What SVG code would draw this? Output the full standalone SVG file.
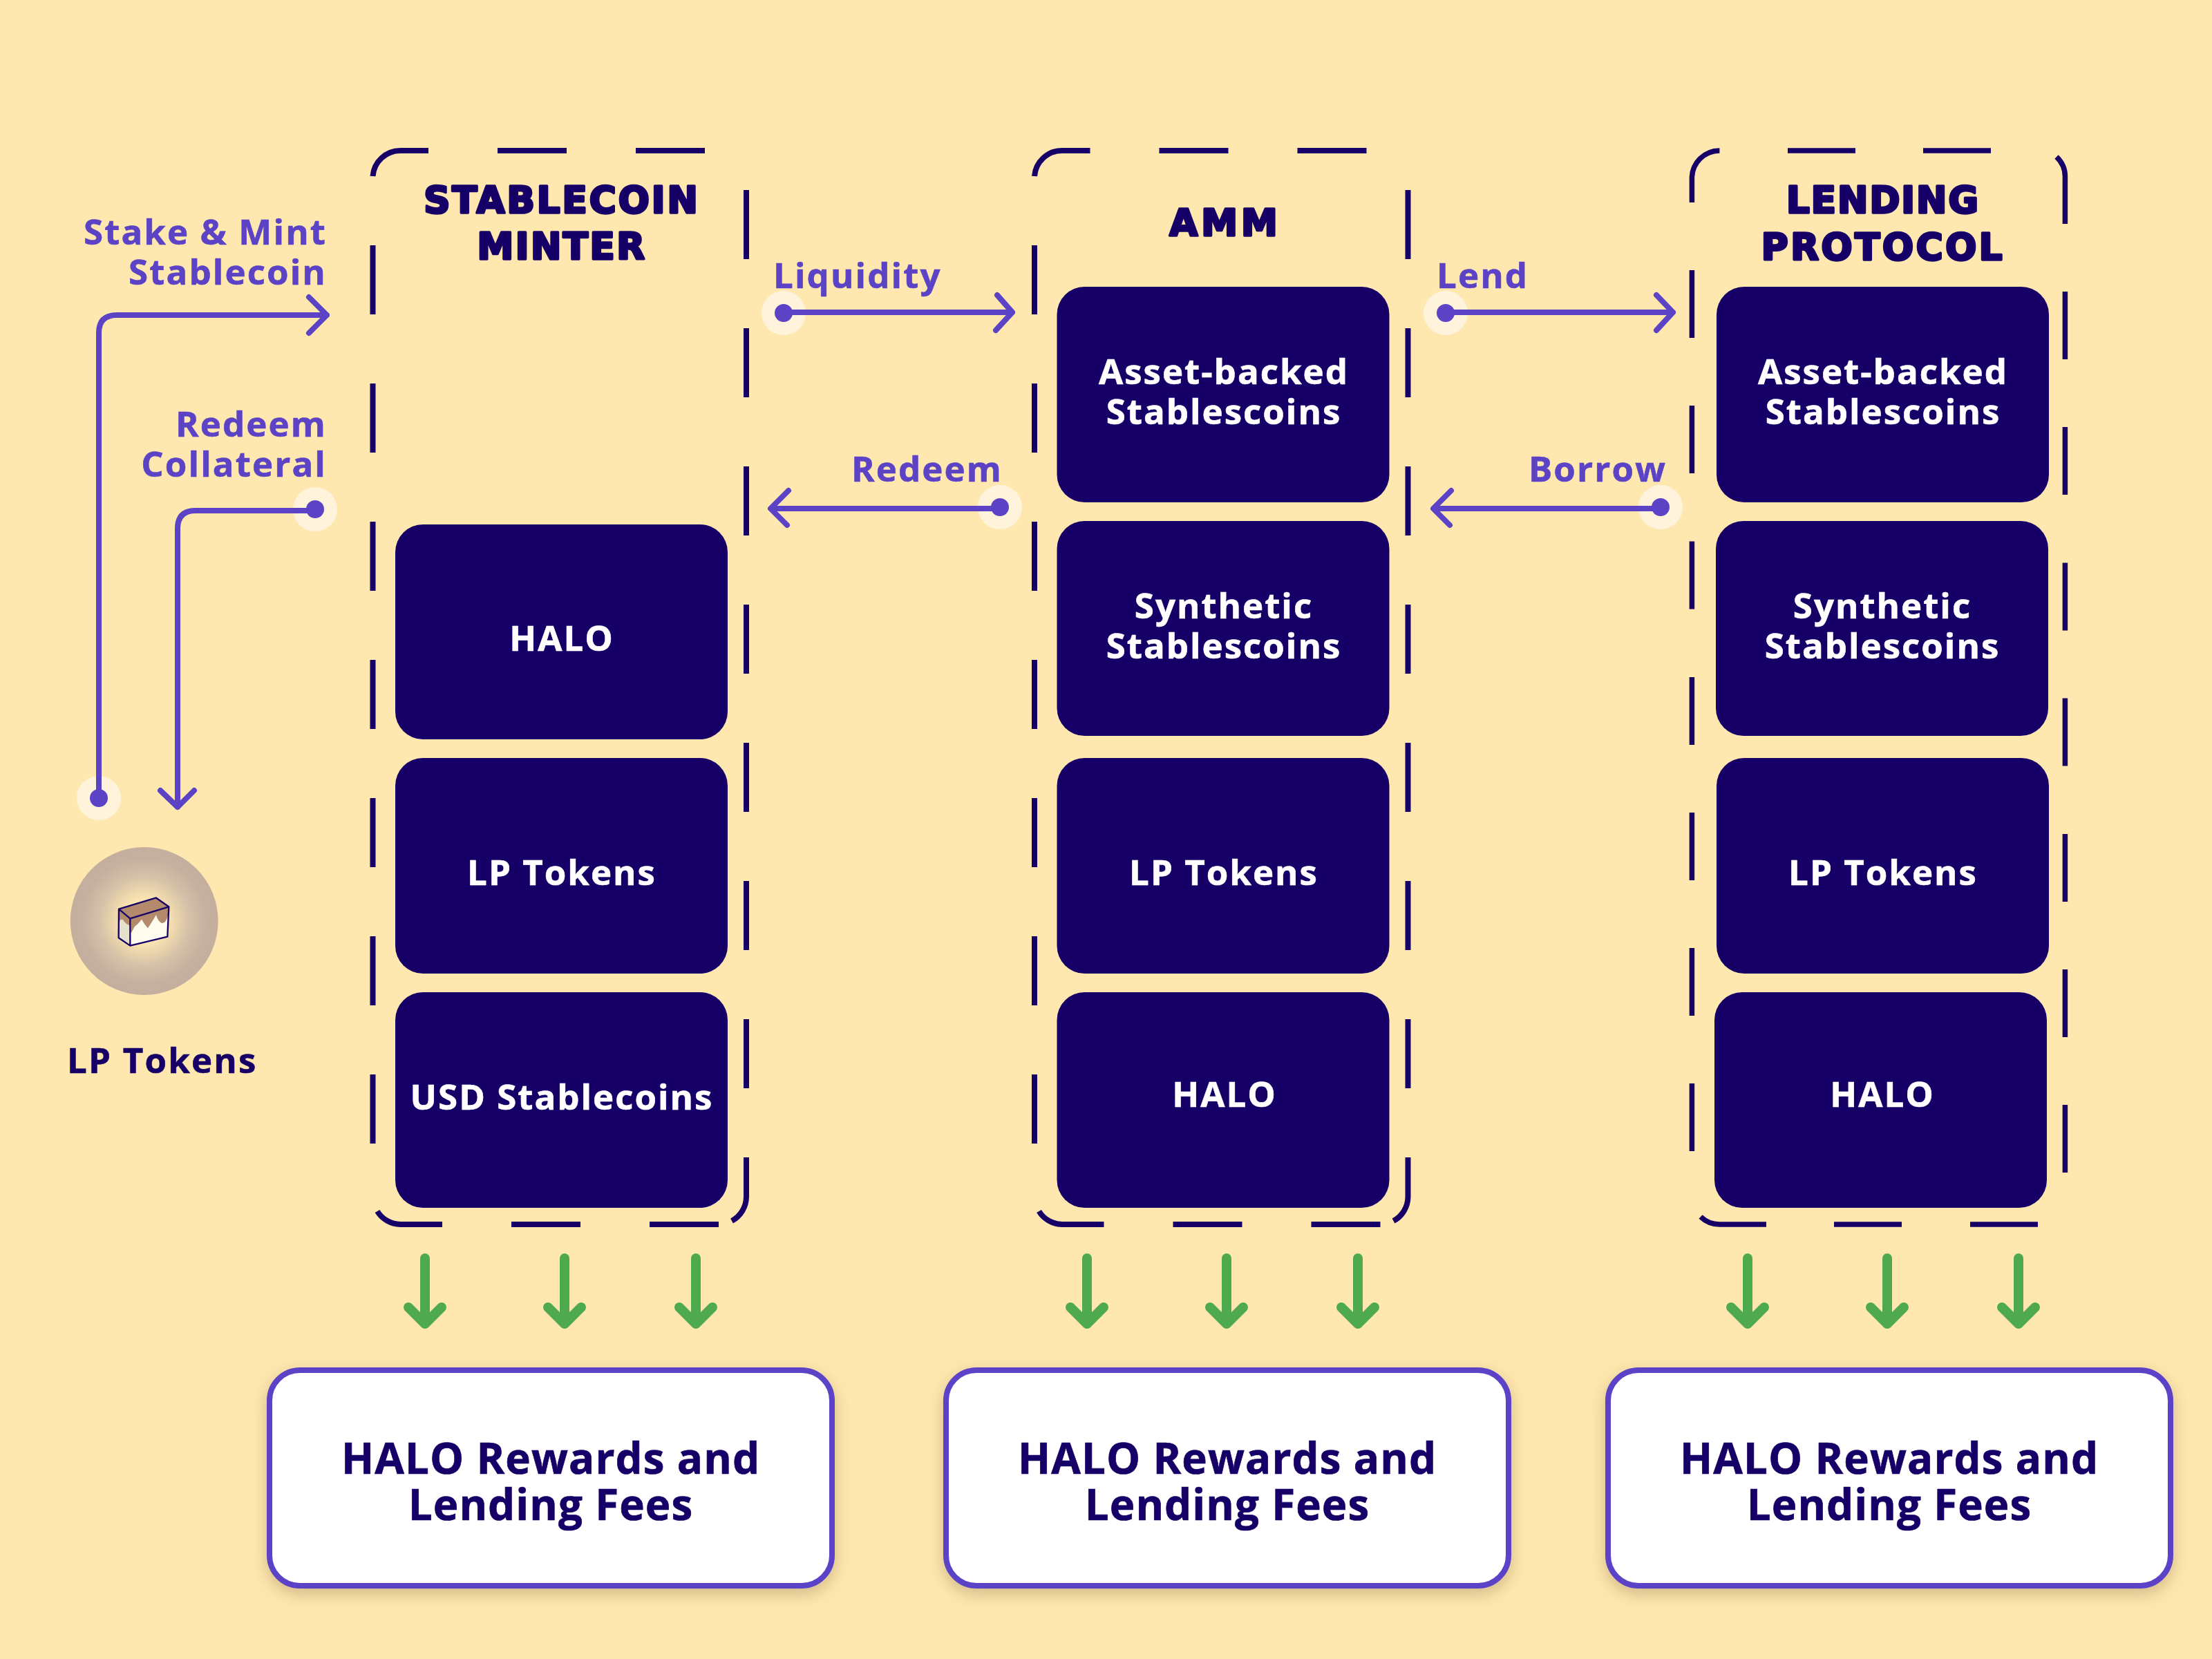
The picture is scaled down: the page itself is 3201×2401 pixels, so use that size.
<svg xmlns="http://www.w3.org/2000/svg" width="3201" height="2401" viewBox="0 0 3201 2401">
<style>
text{font-family:"Open Sans","Noto Sans","Liberation Sans",sans-serif;font-weight:700}
.card{fill:#160067}
.cardt{fill:#fff;stroke:#fff;stroke-width:.6px;font-size:51px;letter-spacing:2px;text-anchor:middle}
.title{fill:#160067;stroke:#160067;stroke-width:3.5px;stroke-linejoin:round;font-family:"DejaVu Sans","Liberation Sans",sans-serif;font-weight:700;font-size:53px;letter-spacing:2px;text-anchor:middle}
.lbl{fill:#5C43C6;stroke:#5C43C6;stroke-width:.6px;font-size:51px;letter-spacing:2.1px}
.end{text-anchor:end}
.frame{fill:none;stroke:#160067;stroke-width:8}
.flow{fill:none;stroke:#5C43C6;stroke-width:8;stroke-linecap:round;stroke-linejoin:round}
.green{fill:none;stroke:#4FAA4F;stroke-width:14;stroke-linecap:round;stroke-linejoin:round}
.halo{fill:#FFF3DC}
.dot{fill:#5C43C6}
.reward{fill:#fff;stroke:#5C43C6;stroke-width:8;filter:url(#sh)}
.rewt{fill:#160067;stroke:#160067;stroke-width:.7px;font-size:61.8px;letter-spacing:1.1px;text-anchor:middle}
</style>
<defs>
<radialGradient id="glow" cx=".5" cy=".5" r=".5">
<stop offset="0" stop-color="#FFE9B2"/><stop offset=".3" stop-color="#FBE4B0"/><stop offset=".6" stop-color="#D6C2A8"/><stop offset=".85" stop-color="#C5B09F"/><stop offset="1" stop-color="#C4AF9F"/>
</radialGradient>
<filter id="sh" x="-10%" y="-15%" width="120%" height="135%"><feDropShadow dx="0" dy="8" stdDeviation="12" flood-color="#7A6030" flood-opacity=".35"/></filter>
<path id="frameA" class="frame" d="M539.5 255A40 40 0 0 1 579.5 218H620M720 218H820M920 218H1020M539.5 355V455M539.5 555V655M539.5 755V855M539.5 955V1055M539.5 1155V1255M539.5 1355V1455M539.5 1555V1655M1080 275V375M1080 475V575M1080 675V775M1080 875V975M1080 1075V1175M1080 1275V1375M1080 1475V1575M1080 1675V1732A40 40 0 0 1 1059 1767M546 1753A40 40 0 0 0 579.5 1772H640M740 1772H840M940 1772H1040"/>
<path id="gar" class="green" d="M0 0V95M-24 71L0 95L24 71"/>
</defs>
<rect width="3201" height="2401" fill="#FFE8B0"/>

<g id="minter">
<use href="#frameA"/>
<text class="title" style="letter-spacing:3px" x="813" y="308">STABLECOIN</text>
<text class="title" style="letter-spacing:2.5px" x="813" y="375">MINTER</text>
</g>
<g id="amm">
<use href="#frameA" x="957.5"/>
<text class="title" style="letter-spacing:5px" x="1773" y="341">AMM</text>
</g>
<g id="lending">
<path class="frame" style="stroke-width:7.5" d="M2448.4 293V258A40 40 0 0 1 2488.4 218M2587 218H2685M2783 218H2881M2976 227A40 40 0 0 1 2988.4 258V324M2448.4 391V489M2448.4 587V685M2448.4 783.5V881.5M2448.4 980V1078M2448.4 1176V1274M2448.4 1372V1470M2448.4 1568V1666M2988.4 422V520M2988.4 618V716M2988.4 814.5V912.5M2988.4 1010.5V1108.5M2988.4 1207V1305M2988.4 1403V1501M2988.4 1599V1697M2461 1761A40 40 0 0 0 2488.4 1772H2556M2654 1772H2752M2851 1772H2949"/>
<text class="title" x="2725" y="308">LENDING</text>
<text class="title" style="letter-spacing:3.6px" x="2725" y="376">PROTOCOL</text>
</g>

<g id="minter-halo"><rect class="card" x="572" y="759" width="481" height="311" rx="40"/><text class="cardt" x="813" y="942">HALO</text></g>
<g id="minter-lp"><rect class="card" x="572" y="1097" width="481" height="312" rx="40"/><text class="cardt" x="813" y="1281">LP Tokens</text></g>
<g id="minter-usd"><rect class="card" x="572" y="1436" width="481" height="312" rx="40"/><text class="cardt" x="813" y="1606">USD Stablecoins</text></g>

<g id="amm-asset"><rect class="card" x="1529.5" y="415" width="481" height="312" rx="40"/><text class="cardt" x="1771" y="556">Asset-backed</text><text class="cardt" x="1771" y="614">Stablescoins</text></g>
<g id="amm-synth"><rect class="card" x="1529.5" y="754" width="481" height="311" rx="40"/><text class="cardt" x="1771" y="895">Synthetic</text><text class="cardt" x="1771" y="953">Stablescoins</text></g>
<g id="amm-lp"><rect class="card" x="1529.5" y="1097" width="481" height="312" rx="40"/><text class="cardt" x="1771" y="1281">LP Tokens</text></g>
<g id="amm-halo"><rect class="card" x="1529.5" y="1436" width="481" height="312" rx="40"/><text class="cardt" x="1772" y="1602">HALO</text></g>

<g id="lend-asset"><rect class="card" x="2484" y="415" width="481" height="312" rx="40"/><text class="cardt" x="2725" y="556">Asset-backed</text><text class="cardt" x="2725" y="614">Stablescoins</text></g>
<g id="lend-synth"><rect class="card" x="2483" y="754" width="481" height="311" rx="40"/><text class="cardt" x="2724" y="895">Synthetic</text><text class="cardt" x="2724" y="953">Stablescoins</text></g>
<g id="lend-lp"><rect class="card" x="2484" y="1097" width="481" height="312" rx="40"/><text class="cardt" x="2725" y="1281">LP Tokens</text></g>
<g id="lend-halo"><rect class="card" x="2481" y="1436" width="481" height="312" rx="40"/><text class="cardt" x="2724" y="1602">HALO</text></g>

<g id="lp-tokens">
<circle cx="208.7" cy="1333" r="107" fill="url(#glow)"/>
<g transform="translate(60 1100) scale(.3333)" stroke-linejoin="round">
<path d="M336 647L385 688V806L335 772Z" fill="#E6E0CD"/>
<path d="M385 688L553 637L547 767L385 806Z" fill="#FFFCEF"/>
<path d="M336 647L385 688V718Q365 712 355 695Q345 685 337 702Z" fill="#B38A6C"/>
<path d="M385 688L553 637L550 672Q540 712 522 708Q505 700 498 672Q485 695 462 730Q448 715 435 692Q420 712 405 722L390 750L385 745Z" fill="#B38A6C"/>
<path d="M336 647L497 598L553 637L385 688Z" fill="#B38A6C"/>
<path d="M336 647L497 598L553 637L547 767L385 806L335 772ZM336 647L385 688L553 637M385 688V806" fill="none" stroke="#160067" stroke-width="7"/>
</g>
<text x="97" y="1553" fill="#160067" stroke="#160067" stroke-width=".6" font-size="51" letter-spacing="2.2">LP Tokens</text>
</g>

<g id="connectors">
<circle class="halo" cx="143" cy="1155" r="32"/>
<path class="flow" d="M143 1155V482Q143 456 169 456H473M447 430L473 456L447 482"/>
<circle class="dot" cx="143" cy="1155" r="13"/>
<circle class="halo" cx="456" cy="737" r="32"/>
<path class="flow" d="M456 739H283Q257 739 257 765V1168M232 1144L257 1168L281 1144"/>
<circle class="dot" cx="456" cy="737" r="13"/>

<circle class="halo" cx="1134" cy="453" r="32"/>
<path class="flow" d="M1134 452H1465M1443 427L1465 452L1441 478"/>
<circle class="dot" cx="1134" cy="453" r="13"/>
<circle class="halo" cx="1447" cy="734" r="32"/>
<path class="flow" d="M1447 736H1116M1141 710L1115 736L1139 760"/>
<circle class="dot" cx="1447" cy="734" r="13"/>

<circle class="halo" cx="2092" cy="453" r="32"/>
<path class="flow" d="M2092 452H2421M2397 427L2421 452L2397 478"/>
<circle class="dot" cx="2092" cy="453" r="13"/>
<circle class="halo" cx="2403" cy="734" r="32"/>
<path class="flow" d="M2403 736H2075M2100 710L2074 736L2098 760"/>
<circle class="dot" cx="2403" cy="734" r="13"/>

<use href="#gar" x="615" y="1821"/><use href="#gar" x="817" y="1821"/><use href="#gar" x="1007" y="1821"/>
<use href="#gar" x="1573" y="1821"/><use href="#gar" x="1775" y="1821"/><use href="#gar" x="1965" y="1821"/>
<use href="#gar" x="2529" y="1821"/><use href="#gar" x="2731" y="1821"/><use href="#gar" x="2921" y="1821"/>

<text class="lbl end" x="473" y="354">Stake &amp; Mint</text>
<text class="lbl end" x="473" y="412">Stablecoin</text>
<text class="lbl end" x="473" y="632">Redeem</text>
<text class="lbl end" x="473" y="690">Collateral</text>
<text class="lbl" x="1119" y="417">Liquidity</text>
<text class="lbl end" x="1451" y="697">Redeem</text>
<text class="lbl" x="2079" y="417">Lend</text>
<text class="lbl end" x="2412" y="697">Borrow</text>
</g>

<g id="reward-1"><rect class="reward" x="390" y="1983" width="814" height="312" rx="44"/><text class="rewt"><tspan x="797" y="2133">HALO Rewards and</tspan><tspan x="797" y="2200">Lending Fees</tspan></text></g>
<g id="reward-2"><rect class="reward" x="1369" y="1983" width="814" height="312" rx="44"/><text class="rewt"><tspan x="1776" y="2133">HALO Rewards and</tspan><tspan x="1776" y="2200">Lending Fees</tspan></text></g>
<g id="reward-3"><rect class="reward" x="2327" y="1983" width="814" height="312" rx="44"/><text class="rewt"><tspan x="2734" y="2133">HALO Rewards and</tspan><tspan x="2734" y="2200">Lending Fees</tspan></text></g>
</svg>
